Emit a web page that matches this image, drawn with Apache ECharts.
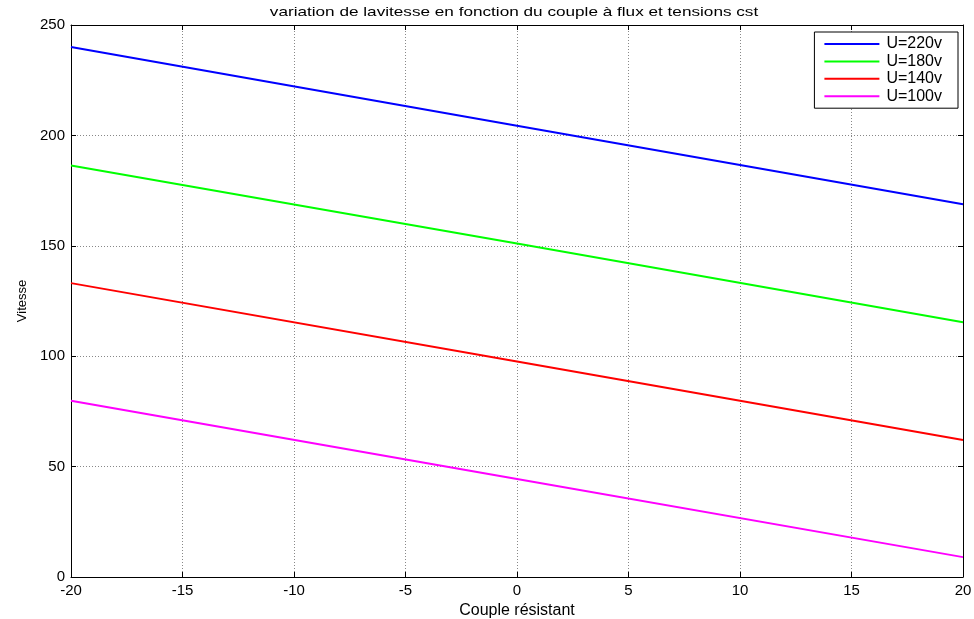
<!DOCTYPE html>
<html>
<head>
<meta charset="utf-8">
<script src="https://cdn.jsdelivr.net/npm/echarts@6/dist/echarts.min.js"></script>
<style>
  html, body { margin: 0; padding: 0; background: #fff; overflow: hidden; }
  #chart { width: 974px; height: 619px; }
</style>
</head>
<body>
<div id="chart"></div>
<script>
// Couple résistant (x) and speed for each supply voltage
const couple = [-20, 0, 20];
const vitesse220 = [240.0, 204.4, 168.8];
const vitesse180 = [186.4, 151.0, 115.4];
const vitesse140 = [133.1, 97.6, 62.0];
const vitesse100 = [79.8, 44.4, 9.0];
const seriesNames = ['U=220v', 'U=180v', 'U=140v', 'U=100v'];
const seriesColors = ['#0000ff', '#00ff00', '#ff0000', '#ff00ff'];
const xTicks = [-20, -15, -10, -5, 0, 5, 10, 15, 20];
const yTicks = [0, 50, 100, 150, 200, 250];

const allValues = [vitesse220, vitesse180, vitesse140, vitesse100];
const font = 'Liberation Sans, Arial, sans-serif';

const chart = echarts.init(document.getElementById('chart'), null, { renderer: 'canvas' });

const series = allValues.map((vals, i) => ({
  name: seriesNames[i],
  type: 'line',
  xAxisIndex: 0,
  yAxisIndex: 0,
  data: couple.map((x, k) => [x, vals[k]]),
  showSymbol: false,
  symbol: 'none',
  lineStyle: { color: seriesColors[i], width: 2 },
  itemStyle: { color: seriesColors[i] },
  animation: false
}));

const gridLine = { show: true, lineStyle: { color: '#888', type: [1, 2], width: 1 } };
const frameLine = { show: true, onZero: false, lineStyle: { color: '#000', width: 1 } };
const innerTick = { show: true, inside: true, length: 5, lineStyle: { color: '#000' } };

chart.setOption({
  animation: false,
  backgroundColor: '#fff',
  legend: {
    data: seriesNames,
    orient: 'vertical',
    right: 16, top: 32,
    padding: [4, 16, 4, 10],
    itemGap: 1.4,
    itemWidth: 55,
    itemHeight: 14,
    icon: 'path://M0,6 L55,6 L55,8 L0,8 Z',
    backgroundColor: '#fff',
    borderColor: '#000',
    borderWidth: 1,
    borderRadius: 0,
    textStyle: { fontFamily: font, fontSize: 16, lineHeight: 14, color: '#000', padding: [0, 0, 0, 2] }
  },
  grid: { left: 71, right: 11, top: 25, bottom: 42, containLabel: false, outerBoundsMode: 'none', show: false },
  xAxis: [{
    type: 'value',
    position: 'bottom',
    min: -20, max: 20, interval: 5,
    name: 'Couple résistant',
    nameLocation: 'middle', nameGap: 22,
    nameTextStyle: { fontFamily: font, fontSize: 16, color: '#000' },
    axisLine: frameLine,
    axisTick: innerTick,
    axisLabel: { fontFamily: font, fontSize: 15, color: '#000', margin: 6,
      formatter: v => xTicks.includes(v) ? String(v) : '' },
    splitLine: gridLine
  }, {
    type: 'value',
    position: 'top',
    min: -20, max: 20, interval: 5,
    axisLine: frameLine,
    axisTick: innerTick,
    axisLabel: { show: false },
    splitLine: { show: false }
  }],
  yAxis: [{
    type: 'value',
    position: 'left',
    min: 0, max: 250, interval: 50,
    name: 'Vitesse',
    nameLocation: 'middle', nameGap: 30,
    nameTextStyle: { fontFamily: font, fontSize: 13, color: '#000' },
    axisLine: frameLine,
    axisTick: innerTick,
    axisLabel: { fontFamily: font, fontSize: 15, color: '#000', margin: 6,
      formatter: v => yTicks.includes(v) ? String(v) : '' },
    splitLine: gridLine
  }, {
    type: 'value',
    position: 'right',
    min: 0, max: 250, interval: 50,
    axisLine: frameLine,
    axisTick: innerTick,
    axisLabel: { show: false },
    splitLine: { show: false }
  }],
  graphic: [{
    type: 'text',
    x: 514, y: 6,
    scaleX: 1.32,
    style: {
      text: 'variation de lavitesse en fonction du couple à flux et tensions cst',
      fontFamily: font, fontSize: 13, fill: '#000',
      textAlign: 'center', textVerticalAlign: 'top'
    },
    silent: true
  }],
  series: series
});
</script>
</body>
</html>
